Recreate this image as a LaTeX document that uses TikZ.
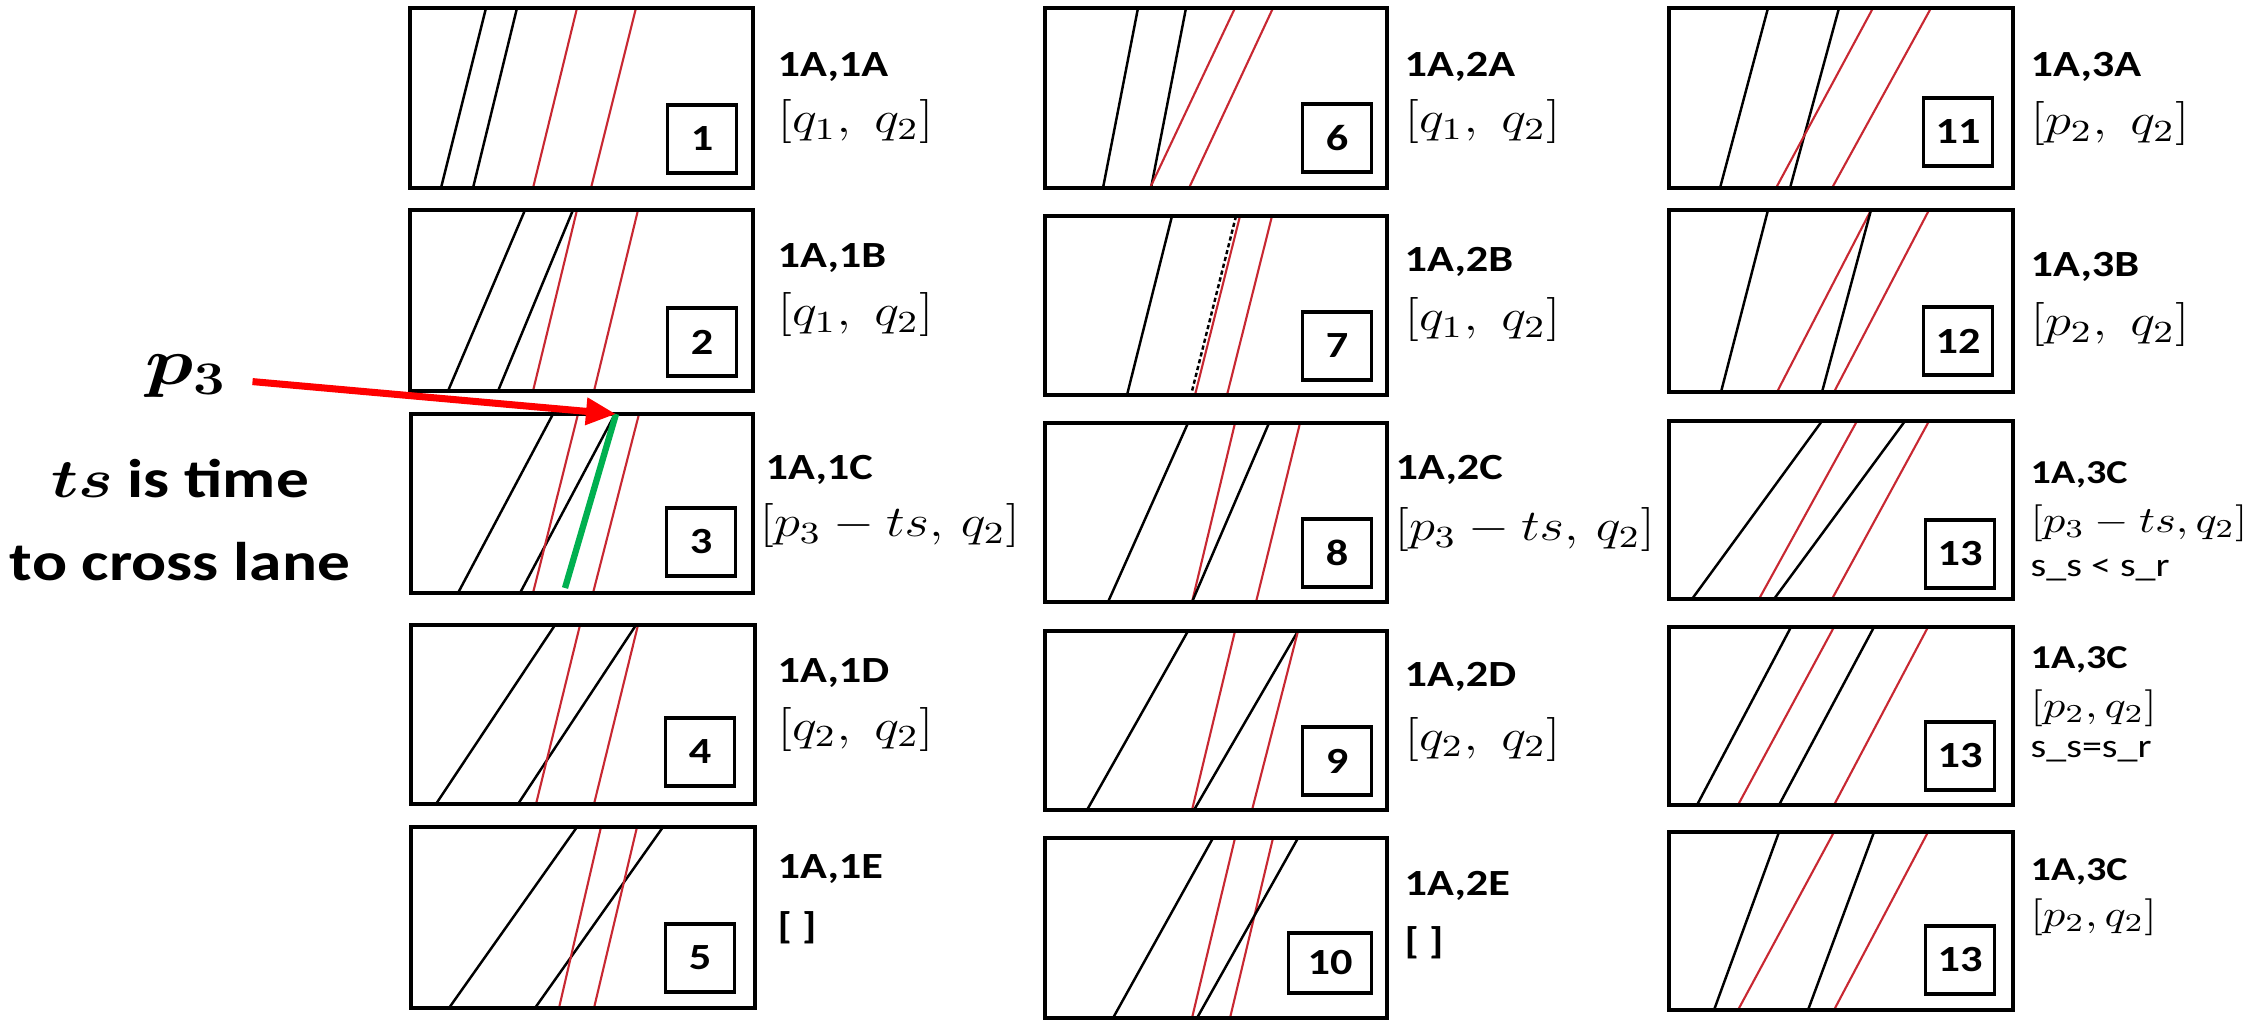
\RequirePackage{fix-cm}
\documentclass[tikz,border=0pt]{standalone}
\usepackage{graphicx}
\usepackage{fontspec}
\setmainfont{Carlito}[FakeStretch=1.2]
\usetikzlibrary{arrows.meta}
\definecolor{lanered}{RGB}{200,40,50}
\definecolor{arrowred}{RGB}{255,0,0}
\definecolor{tsgreen}{RGB}{0,176,80}
\newcommand{\wm}[1]{\scalebox{1.2}[1]{$#1$}}

\begin{document}
\begin{tikzpicture}[x=0.1mm,y=-0.1mm,>={Triangle[length=3mm,width=2.6mm]},
   panel/.style={line width=1.1pt},
   blk/.style={line width=0.7pt},
   redl/.style={line width=0.6pt,lanered},
   numbox/.style={draw,line width=1pt,inner sep=0pt,minimum width=6.9mm,minimum height=6.8mm,font=\fontsize{10.5}{12}\selectfont\bfseries},
   lab/.style={anchor=west,inner sep=0pt,font=\fontsize{10.5}{12}\selectfont\bfseries},
   rng/.style={anchor=west,inner sep=0pt,font=\fontsize{12.5}{15}\selectfont},
   labs/.style={lab,font=\fontsize{9.5}{11}\selectfont\bfseries},
   rngs/.style={rng,font=\fontsize{10.5}{12}\selectfont},
   cond/.style={anchor=west,inner sep=0pt,font=\fontsize{9.5}{11}\selectfont},
   note/.style={anchor=base,inner sep=0pt,font=\fontsize{15.5}{18}\selectfont\bfseries\boldmath}]
   \useasboundingbox (0,0) rectangle (2258,1020);
   %panel 1
   \draw[blk] (486,8) -- (441,188);
   \draw[blk] (517,8) -- (473,188);
   \draw[redl] (577,8) -- (533,188);
   \draw[redl] (636,8) -- (591,188);
   \draw[panel] (410,8) rectangle (753,188);
   \node[numbox] (n1) at (702,139) {1};
   \node[lab] (t1) at (777,67) {1A,1A};
   \node[rng] (r1) at (777,122) {\wm{[q_1,\; q_2]}};
   %panel 2
   \draw[blk] (525,210) -- (448,391);
   \draw[blk] (573,210) -- (498,391);
   \draw[redl] (577,210) -- (533,391);
   \draw[redl] (638,210) -- (594,391);
   \draw[panel] (410,210) rectangle (753,391);
   \node[numbox] (n2) at (702,342) {2};
   \node[lab] (t2) at (777,258) {1A,1B};
   \node[rng] (r2) at (777,315) {\wm{[q_1,\; q_2]}};
   %panel 3
   \draw[blk] (553,414) -- (458,593);
   \draw[blk] (615,414) -- (520,593);
   \draw[redl] (578,414) -- (533,593);
   \draw[redl] (639,414) -- (593,593);
   \draw[panel] (411,414) rectangle (753,593);
   \node[numbox] (n3) at (701,542) {3};
   \node[lab] (t3) at (765,470) {1A,1C};
   \node[rng] (r3) at (759,526) {\wm{[p_3 - ts,\, q_2]}};
   %panel 4
   \draw[blk] (555,625) -- (436,804);
   \draw[blk] (636,625) -- (518,804);
   \draw[redl] (580,625) -- (536,804);
   \draw[redl] (638,625) -- (594,804);
   \draw[panel] (411,625) rectangle (755,804);
   \node[numbox] (n4) at (700,752) {4};
   \node[lab] (t4) at (777,673) {1A,1D};
   \node[rng] (r4) at (777,729) {\wm{[q_2,\; q_2]}};
   %panel 5
   \draw[blk] (577,827) -- (449,1008);
   \draw[blk] (663,827) -- (535,1008);
   \draw[redl] (601,827) -- (559,1008);
   \draw[redl] (637,827) -- (594,1008);
   \draw[panel] (411,827) rectangle (755,1008);
   \node[numbox] (n5) at (700,958) {5};
   \node[lab] (t5) at (777,869) {1A,1E};
   \node[lab] (r5) at (777,928) {[ ]};
   %panel 6
   \draw[blk] (1138,8) -- (1103,188);
   \draw[blk] (1186,8) -- (1151,188);
   \draw[redl] (1235,8) -- (1150,188);
   \draw[redl] (1273,8) -- (1189,188);
   \draw[panel] (1045,8) rectangle (1387,188);
   \node[numbox] (n6) at (1337,138) {6};
   \node[lab] (t6) at (1404,67) {1A,2A};
   \node[rng] (r6) at (1404,122) {\wm{[q_1,\; q_2]}};
   %panel 7
   \draw[blk] (1172,216) -- (1127,395);
   \draw[redl] (1240,216) -- (1195,395);
   \draw[blk,dash pattern=on 1.2pt off 0.8pt] (1236,216) -- (1191,395);
   \draw[redl] (1272,216) -- (1227,395);
   \draw[panel] (1045,216) rectangle (1387,395);
   \node[numbox] (n7) at (1337,346) {7};
   \node[lab] (t7) at (1404,262) {1A,2B};
   \node[rng] (r7) at (1404,320) {\wm{[q_1,\; q_2]}};
   %panel 8
   \draw[blk] (1188,423) -- (1108,602);
   \draw[redl] (1235,423) -- (1192,602);
   \draw[blk] (1269,423) -- (1192,602);
   \draw[redl] (1300,423) -- (1256,602);
   \draw[panel] (1045,423) rectangle (1387,602);
   \node[numbox] (n8) at (1337,553) {8};
   \node[lab] (t8) at (1395,470) {1A,2C};
   \node[rng] (r8) at (1394,530) {\wm{[p_3 - ts,\, q_2]}};
   %panel 9
   \draw[blk] (1188,631) -- (1087,810);
   \draw[redl] (1235,631) -- (1192,810);
   \draw[blk] (1298,631) -- (1194,810);
   \draw[redl] (1298,631) -- (1252,810);
   \draw[panel] (1045,631) rectangle (1387,810);
   \node[numbox] (n9) at (1337,761) {9};
   \node[lab] (t9) at (1404,677) {1A,2D};
   \node[rng] (r9) at (1404,739) {\wm{[q_2,\; q_2]}};
   %panel 10
   \draw[blk] (1213,838) -- (1113,1018);
   \draw[redl] (1235,838) -- (1192,1018);
   \draw[redl] (1273,838) -- (1230,1018);
   \draw[blk] (1298,838) -- (1197,1018);
   \draw[panel] (1045,838) rectangle (1387,1018);
   \node[numbox,minimum width=8.3mm,minimum height=6mm] (n10) at (1330,963) {10};
   \node[lab] (t10) at (1404,886) {1A,2E};
   \node[lab] (r10) at (1404,943) {[ ]};
   %panel 11
   \draw[blk] (1768,8) -- (1720,188);
   \draw[blk] (1839,8) -- (1790,188);
   \draw[redl] (1873,8) -- (1776,188);
   \draw[redl] (1931,8) -- (1832,188);
   \draw[panel] (1669,8) rectangle (2013,188);
   \node[numbox] (n11) at (1958,132) {11};
   \node[lab] (t11) at (2030,67) {1A,3A};
   \node[rng] (r11) at (2030,124) {\wm{[p_2,\; q_2]}};
   %panel 12
   \draw[blk] (1768,210) -- (1721,392);
   \draw[redl] (1871,210) -- (1777,392);
   \draw[blk] (1871,210) -- (1822,392);
   \draw[redl] (1929,210) -- (1834,392);
   \draw[panel] (1669,210) rectangle (2013,392);
   \node[numbox] (n12) at (1958,341) {12};
   \node[lab] (t12) at (2030,267) {1A,3B};
   \node[rng] (r12) at (2030,325) {\wm{[p_2,\; q_2]}};
   %panel 13, s_s < s_r
   \draw[blk] (1822,421) -- (1692,599);
   \draw[redl] (1857,421) -- (1759,599);
   \draw[blk] (1905,421) -- (1774,599);
   \draw[redl] (1929,421) -- (1832,599);
   \draw[panel] (1669,421) rectangle (2013,599);
   \node[numbox] (n13a) at (1960,554) {13};
   \node[labs] (t13a) at (2030,475) {1A,3C};
   \node[rngs] (r13a) at (2030,523) {\wm{[p_3 - ts, q_2]}};
   \node[cond] (c13a) at (2030,570) {s\_s < s\_r};
   %panel 13, s_s = s_r
   \draw[blk] (1791,627) -- (1697,805);
   \draw[redl] (1834,627) -- (1738,805);
   \draw[blk] (1874,627) -- (1779,805);
   \draw[redl] (1928,627) -- (1834,805);
   \draw[panel] (1669,627) rectangle (2013,805);
   \node[numbox] (n13b) at (1960,756) {13};
   \node[labs] (t13b) at (2030,660) {1A,3C};
   \node[rngs] (r13b) at (2030,708) {\wm{[p_2, q_2]}};
   \node[cond] (c13b) at (2030,752) {s\_s=s\_r};
   %panel 13, last
   \draw[blk] (1779,832) -- (1714,1010);
   \draw[redl] (1834,832) -- (1738,1010);
   \draw[blk] (1874,832) -- (1808,1010);
   \draw[redl] (1928,832) -- (1834,1010);
   \draw[panel] (1669,832) rectangle (2013,1010);
   \node[numbox] (n13c) at (1960,960) {13};
   \node[labs] (t13c) at (2030,872) {1A,3C};
   \node[rngs] (r13c) at (2030,917) {\wm{[p_2, q_2]}};
   %p3 and ts
   \node[anchor=base,inner sep=0pt,font=\fontsize{19}{22}\selectfont\boldmath] (pthree) at (186,384) {\wm{p_3}};
   \coordinate (p3pt) at (616,414);
   \draw[tsgreen,line width=1.8pt] (p3pt) -- (565,588);
   \draw[->,arrowred,line width=2pt,shorten <=2.5mm] (pthree) -- (p3pt);
   \node[note] (tsline) at (180,497) {\wm{ts} is time};
   \node[note] (crossline) at (180,580) {to cross lane};
\end{tikzpicture}
\end{document}
